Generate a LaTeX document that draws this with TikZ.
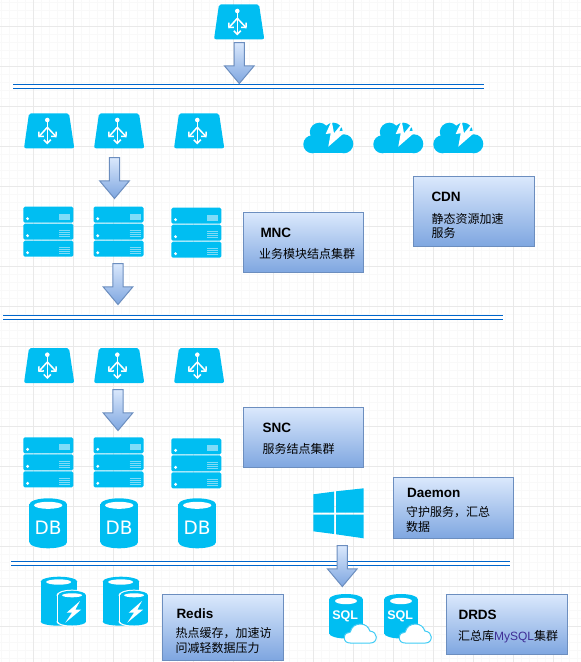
\documentclass[tikz,border=0pt]{standalone}
\usepackage{fontspec}
\setmainfont{Liberation Sans}
\newfontfamily\cjk{Noto Sans CJK SC}
\usetikzlibrary{arrows.meta,calc,positioning,shapes.arrows}

\definecolor{iconblue}{HTML}{00BEF2}
\definecolor{iconlight}{HTML}{7FDCF8}
\definecolor{cloudline}{HTML}{40CCF5}
\definecolor{boxtop}{HTML}{DAE8FC}
\definecolor{boxbottom}{HTML}{7EA6E0}
\definecolor{boxline}{HTML}{6C8EBF}
\definecolor{barblue}{HTML}{0066CC}
\definecolor{gridmajor}{HTML}{E9E9E9}
\definecolor{gridminor}{HTML}{F9F9F9}
\definecolor{sqlname}{HTML}{3F2E96}

\tikzset{
    infobox/.style={draw=boxline, line width=1pt, top color=boxtop, bottom color=boxbottom,
        anchor=north west, inner sep=0pt},
    infotitle/.style={anchor=west, inner sep=0pt, font=\fontsize{13.5}{15}\selectfont\bfseries},
    infotext/.style={inner sep=0pt, align=left, font=\cjk\fontsize{12}{14.5}\selectfont},
    downarrow/.style={single arrow, shape border rotate=270, draw=boxline, line width=1pt,
        top color=boxtop, bottom color=boxbottom, inner sep=4.5pt, minimum width=29.5pt,
        minimum height=41pt, single arrow head extend=9.5pt, single arrow tip angle=80,
        single arrow head indent=0pt},
    barline/.style={draw=barblue, line width=1.2pt, double=white, double distance=2.5pt},
    lbicon/.pic={
        \fill[iconblue, rounded corners=2pt] (-20,0) -- (20,0) -- (25.3,35) -- (-25,35) -- cycle;
        \fill[white] (-1.7,6.7) circle (2.3);
        \draw[white, line width=1.5pt, -{Straight Barb[length=3.5pt,width=7pt]}] (-1.7,7) -- (-1.7,31);
        \draw[white, line width=1.5pt, -{Straight Barb[length=3.5pt,width=7pt]}] (-1.7,14) -- (-10.7,24);
        \draw[white, line width=1.5pt, -{Straight Barb[length=3.5pt,width=7pt]}] (-1.7,14) -- (7.7,24);
    },
    servericon/.pic={
        \foreach \row in {0,17,34} {
            \fill[iconblue, rounded corners=1.5pt] (0,\row) rectangle (50,\row+16);
            \fill[white] (4.3,\row+12) circle (1.6);
        }
        \fill[iconlight] (36,7) rectangle (47,13);
        \foreach \row in {24,26,28,30,41,43,45,47} {
            \draw[iconlight, line width=0.7pt] (36,\row) -- (47,\row);
        }
    },
    dbicon/.pic={
        \fill[iconblue] (-18.8,6) rectangle (18.8,44);
        \fill[iconblue] (0,6) ellipse [x radius=18.8, y radius=6];
        \fill[iconblue] (0,44) ellipse [x radius=18.8, y radius=6];
        \fill[white] (0,7) ellipse [x radius=14.2, y radius=3.5];
        \node[white, inner sep=0pt, font=\fontsize{18.5}{18}\selectfont\fontspec{DejaVu Sans}] (-txt) at (0,29.7) {DB};
    },
    redisicon/.pic={
        \fill[iconblue] (0,5) rectangle (36.6,45);
        \fill[iconblue] (18.3,5) ellipse [x radius=18.3, y radius=5];
        \fill[iconblue] (18.3,45) ellipse [x radius=18.3, y radius=4];
        \fill[white] (18,5.3) ellipse [x radius=12.5, y radius=2.7];
        \fill[white] (15.8,18.5) rectangle (46.8,45);
        \fill[white] (31.3,18.5) ellipse [x radius=15.5, y radius=5.5];
        \fill[white] (31.3,45) ellipse [x radius=15.5, y radius=5];
        \fill[iconblue] (17.6,18.5) rectangle (45.3,45);
        \fill[iconblue] (31.4,18.5) ellipse [x radius=13.8, y radius=4.5];
        \fill[iconblue] (31.4,45) ellipse [x radius=13.8, y radius=3.8];
        \fill[white] (31.4,18.6) ellipse [x radius=10, y radius=2];
        \fill[white] (39.3,24.3) -- (26,36) -- (31.3,36) -- (24.6,46) -- (40.3,33) -- (34.6,33) -- cycle;
    },
    sqlicon/.pic={
        \fill[iconblue] (0,5) rectangle (33.4,39.5);
        \fill[iconblue] (16.7,5) ellipse [x radius=16.7, y radius=5];
        \fill[iconblue] (16.7,39.5) ellipse [x radius=16.7, y radius=5];
        \fill[white] (16.7,7) ellipse [x radius=11, y radius=3.2];
        \node[white, inner sep=0pt, font=\fontsize{12.5}{13}\selectfont\bfseries] (-txt) at (15.8,22.7) {SQL};
        \draw[cloudline, fill=white, line width=1pt] (21,49) .. controls (17,49) and (15,47) .. (15,43.5)
            .. controls (15,40) and (18,38) .. (21,38) .. controls (22,33) and (26,30) .. (31,30)
            .. controls (36,30) and (39.5,33) .. (40.5,37) .. controls (44.5,37.5) and (47,40) .. (47,43)
            .. controls (47,47) and (44.5,49) .. (41,49) -- cycle;
    },
    cdnicon/.pic={
        \fill[iconblue] (9,23.6) circle (9);
        \fill[iconblue] (16,11.5) circle (9.5);
        \fill[iconblue] (30,11.5) circle (9.5);
        \fill[iconblue] (40.5,23.1) circle (9.5);
        \fill[iconblue] (9,14) rectangle (41,32.6);
        \fill[white] (28.4,0) -- (22.4,13.3) -- (27.4,12.6) -- (25,26) -- (43.4,10) -- (36,10.6)
            -- (40,1) -- (30.7,12.6) -- cycle;
    },
    winicon/.pic={
        \fill[iconblue] (0,6) -- (20.7,3.3) -- (20.7,24.3) -- (0,24.3) -- cycle;
        \fill[iconblue] (22.7,3) -- (50.3,0) -- (50.3,24.3) -- (22.7,24.3) -- cycle;
        \fill[iconblue] (0,26.3) -- (20.7,26.3) -- (20.7,45.7) -- (0,43) -- cycle;
        \fill[iconblue] (22.7,26.3) -- (50.3,26.3) -- (50.3,50) -- (22.7,46) -- cycle;
    }
}

\begin{document}
\begin{tikzpicture}[x=1pt, y=-1pt]
    \useasboundingbox (0,0) rectangle (581,662);

    \foreach \gx in {1,9,...,577} \draw[gridminor, line width=1pt] (\gx,0) -- (\gx,662);
    \foreach \gy in {2.67,10.67,...,660} \draw[gridminor, line width=1pt] (0,\gy) -- (581,\gy);
    \foreach \gx in {33,73,...,577} \draw[gridmajor, line width=1pt] (\gx,0) -- (\gx,662);
    \foreach \gy in {26.67,66.67,...,660} \draw[gridmajor, line width=1pt] (0,\gy) -- (581,\gy);

    \coordinate (barAl) at (13,86.5);
    \coordinate (barAr) at (484,86.5);
    \coordinate (barBl) at (3,317.3);
    \coordinate (barBr) at (503,317.3);
    \coordinate (barCl) at (11,563.3);
    \coordinate (barCr) at (510,563.3);
    \draw[barline] (barAl) -- (barAr);
    \draw[barline] (barBl) -- (barBr);
    \draw[barline] (barCl) -- (barCr);

    \pic (lbTop) at (239,4.3) {lbicon};
    \pic (lbA) at (49,113.3) {lbicon};
    \pic (lbB) at (119,113.3) {lbicon};
    \pic (lbC) at (199,113.3) {lbicon};
    \pic (lbD) at (49,348) {lbicon};
    \pic (lbE) at (119,348) {lbicon};
    \pic (lbF) at (199,348) {lbicon};

    \pic (cdnA) at (303.3,120.7) {cdnicon};
    \pic (cdnB) at (373.3,120.7) {cdnicon};
    \pic (cdnC) at (433.3,120.7) {cdnicon};

    \pic (srvA) at (23.3,206.7) {servericon};
    \pic (srvB) at (93.5,206.7) {servericon};
    \pic (srvC) at (171.3,207.7) {servericon};
    \pic (srvD) at (23.3,437.3) {servericon};
    \pic (srvE) at (93.5,437.3) {servericon};
    \pic (srvF) at (171.3,438.3) {servericon};

    \pic (dbA) at (48.2,498.3) {dbicon};
    \pic (dbB) at (119.2,498.3) {dbicon};
    \pic (dbC) at (197.2,498.3) {dbicon};

    \pic (win) at (313.3,488.3) {winicon};

    \pic (redisA) at (40.7,576.7) {redisicon};
    \pic (redisB) at (102.7,576.7) {redisicon};

    \pic (sqlA) at (329.3,594) {sqlicon};
    \pic (sqlB) at (384.3,594) {sqlicon};

    \node[downarrow] (arrowTop) at (239.3,60) {};
    \node[downarrow] (arrowLb) at (114.5,175) {};
    \node[downarrow] (arrowSrv) at (118,281) {};
    \node[downarrow] (arrowSnc) at (118,407) {};
    \node[downarrow] (arrowWin) at (342.3,563) {};

    \node[infobox, minimum width=120pt, minimum height=60pt] (mncBox) at (243.3,212.3) {};
    \node[infotitle] (mncTitle) at ($(mncBox.north west) + (17,21)$) {MNC};
    \node[infotext, below right=9.5pt and -1.5pt of mncTitle.south west] (mncText) {业务模块结点集群};

    \node[infobox, minimum width=121pt, minimum height=70pt] (cdnBox) at (413.3,176.3) {};
    \node[infotitle] (cdnTitle) at ($(cdnBox.north west) + (18,21)$) {CDN};
    \node[infotext, below right=10.5pt and 0pt of cdnTitle.south west] (cdnText) {静态资源加速\\服务};

    \node[infobox, minimum width=120pt, minimum height=60pt] (sncBox) at (242.8,407.3) {};
    \node[infotitle] (sncTitle) at ($(sncBox.north west) + (19.5,21)$) {SNC};
    \node[infotext, below right=9.5pt and 0pt of sncTitle.south west] (sncText) {服务结点集群};

    \node[infobox, minimum width=120pt, minimum height=61pt] (daemonBox) at (393.3,477.3) {};
    \node[infotitle] (daemonTitle) at ($(daemonBox.north west) + (13.5,15.5)$) {Daemon};
    \node[infotext, below right=8.5pt and -1pt of daemonTitle.south west] (daemonText) {守护服务，汇总\\数据};

    \node[infobox, minimum width=120.5pt, minimum height=65.5pt] (redisBox) at (162.3,594.3) {};
    \node[infotitle] (redisTitle) at ($(redisBox.north west) + (14,19.7)$) {Redis};
    \node[infotext, below right=8.5pt and -1pt of redisTitle.south west] (redisText) {热点缓存，加速访\\问减轻数据压力};

    \node[infobox, minimum width=120.5pt, minimum height=60pt] (drdsBox) at (446.3,594.3) {};
    \node[infotitle] (drdsTitle) at ($(drdsBox.north west) + (12,20.7)$) {DRDS};
    \node[infotext, below right=10pt and -0.5pt of drdsTitle.south west] (drdsText) {汇总库{\normalfont\fontsize{12}{14.5}\selectfont\color{sqlname}MySQL}集群};
\end{tikzpicture}
\end{document}
